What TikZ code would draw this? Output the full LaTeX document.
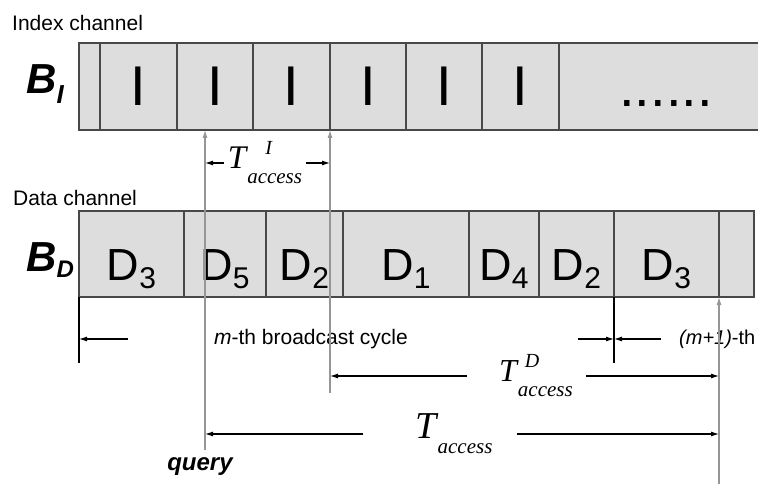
\documentclass[tikz,border=0pt]{standalone}
\usepackage{fontspec}
\setmainfont{Liberation Sans}
\newfontfamily\tms{Liberation Serif}
\usetikzlibrary{arrows.meta, positioning}

\definecolor{cellgray}{RGB}{221,221,221}
\definecolor{framegray}{RGB}{72,72,72}
\definecolor{markgray}{RGB}{150,150,150}

\newcommand{\fs}[1]{\fontsize{#1}{#1}\selectfont}
% T label: #1 = size of T, #2 = shift of superscript, #3 = superscript
\newcommand{\Tacc}[3]{{\tms\itshape\fs{#1}T\rlap{\hspace{#2}\raisebox{14pt}{\fs{20}#3}}\hspace{1pt}\raisebox{-15pt}{\fs{21}access}}}
\newcommand{\Dlab}[1]{D\raisebox{-8pt}{\fs{30}#1}}

\begin{document}
\begin{tikzpicture}[x=1pt, y=-1pt, node distance=0pt]
    % Node Styles
    \tikzstyle{icell} = [rectangle, draw=framegray, line width=1.3pt, fill=cellgray, minimum height=87pt, inner sep=0pt, outer sep=0pt, font=\fs{56}]
    \tikzstyle{dcell} = [icell, minimum height=86pt, font=\fs{45}, text height=60pt, text depth=8pt]
    \tikzstyle{caption} = [inner sep=0pt, anchor=west, font=\fs{21}]
    \tikzstyle{chan} = [inner sep=0pt, anchor=base west, font=\fs{42}\bfseries\itshape]
    \tikzstyle{tlabel} = [inner xsep=4pt, inner ysep=0pt]
    \tikzstyle{line} = [draw, line width=1.1pt, -{Latex[length=8pt,width=5pt]}]
    \tikzstyle{marker} = [line, draw=markgray]

    \useasboundingbox (0,0) rectangle (758,484);
    \clip (0,0) rectangle (758,484);

    % --- INDEX CHANNEL ---
    \node [caption] (icap) at (12,23) {Index channel};
    \node [chan] (bi) at (26,94) {B\raisebox{-10pt}{\fs{26}I}};
    \node [icell, minimum width=21pt, anchor=north west] (i0) at (79,43) {};
    \node [icell, minimum width=77pt, right=of i0] (i1) {I};
    \node [icell, minimum width=76pt, right=of i1] (i2) {I};
    \node [icell, minimum width=77pt, right=of i2] (i3) {I};
    \node [icell, minimum width=76pt, right=of i3] (i4) {I};
    \node [icell, minimum width=76pt, right=of i4] (i5) {I};
    \node [icell, minimum width=77pt, right=of i5] (i6) {I};
    \node [icell, minimum width=220pt, right=of i6] (i7) {};
    \node [inner sep=0pt, anchor=base, font=\fs{56}] (dots) at (666,107) {......};

    % --- DATA CHANNEL ---
    \node [caption] (dcap) at (13,198) {Data channel};
    \node [chan] (bd) at (26,271) {B\raisebox{-6pt}{\fs{24}D}};
    \node [dcell, minimum width=105pt, anchor=north west] (d1) at (79,211) {\Dlab{3}};
    \node [dcell, minimum width=82pt, right=of d1] (d2) {\Dlab{5}};
    \node [dcell, minimum width=77pt, right=of d2] (d3) {\Dlab{2}};
    \node [dcell, minimum width=126pt, right=of d3] (d4) {\Dlab{1}};
    \node [dcell, minimum width=70pt, right=of d4] (d5) {\Dlab{4}};
    \node [dcell, minimum width=75pt, right=of d5] (d6) {\Dlab{2}};
    \node [dcell, minimum width=105pt, right=of d6] (d7) {\Dlab{3}};
    \node [dcell, minimum width=35pt, right=of d7] (d8) {};

    % --- BROADCAST CYCLES ---
    \node [inner sep=0pt, font=\fs{21}] (mcyc) at (311,339) {\textit{m}-th broadcast cycle};
    \coordinate (mbeg) at (d1.south west |- mcyc);
    \coordinate (mend) at (d7.south west |- mcyc);
    \draw [line width=1.1pt, black] (d1.south west) -- ([yshift=-24pt]mbeg);
    \draw [line width=1.1pt, black] (d7.south west) -- ([yshift=-24pt]mend);
    \path [line] ([xshift=49pt]mbeg) -- (mbeg);
    \path [line] ([xshift=-36pt]mend) -- (mend);
    \path [line] ([xshift=47pt]mend) -- (mend);
    \node [inner sep=0pt, anchor=west, font=\fs{20}] (mnext) at ([xshift=65pt]mend) {\textit{(m+1)}-th};

    % --- QUERY AND ACCESS TIMES ---
    \coordinate (q) at (205,450);
    \coordinate (r) at (330,393);
    \coordinate (s) at (719,484);
    \path [marker] (q) -- (q |- i2.south);
    \path [marker] (r) -- (i3.south east);
    \path [marker] (s) -- (d7.south east);

    \node [tlabel] (ti) at (265,163) {\Tacc{33}{19pt}{I}};
    \path [line] (ti.west) -- (q |- ti.west);
    \path [line] (ti.east) -- (r |- ti.east);

    \node [tlabel] (td) at (536,376) {\Tacc{32}{8pt}{D}};
    \path [line] ([xshift=-28pt]td.west) -- (r |- td.west);
    \path [line] ([xshift=9pt]td.east) -- (s |- td.east);

    \node [tlabel] (ta) at (454,434) {\Tacc{38}{0pt}{}};
    \path [line] ([xshift=-48pt]ta.west) -- (q |- ta.west);
    \path [line] ([xshift=20pt]ta.east) -- (s |- ta.east);

    \node [inner sep=0pt, font=\fs{24}\bfseries\itshape] (qry) at (200,467) {query};

\end{tikzpicture}
\end{document}
